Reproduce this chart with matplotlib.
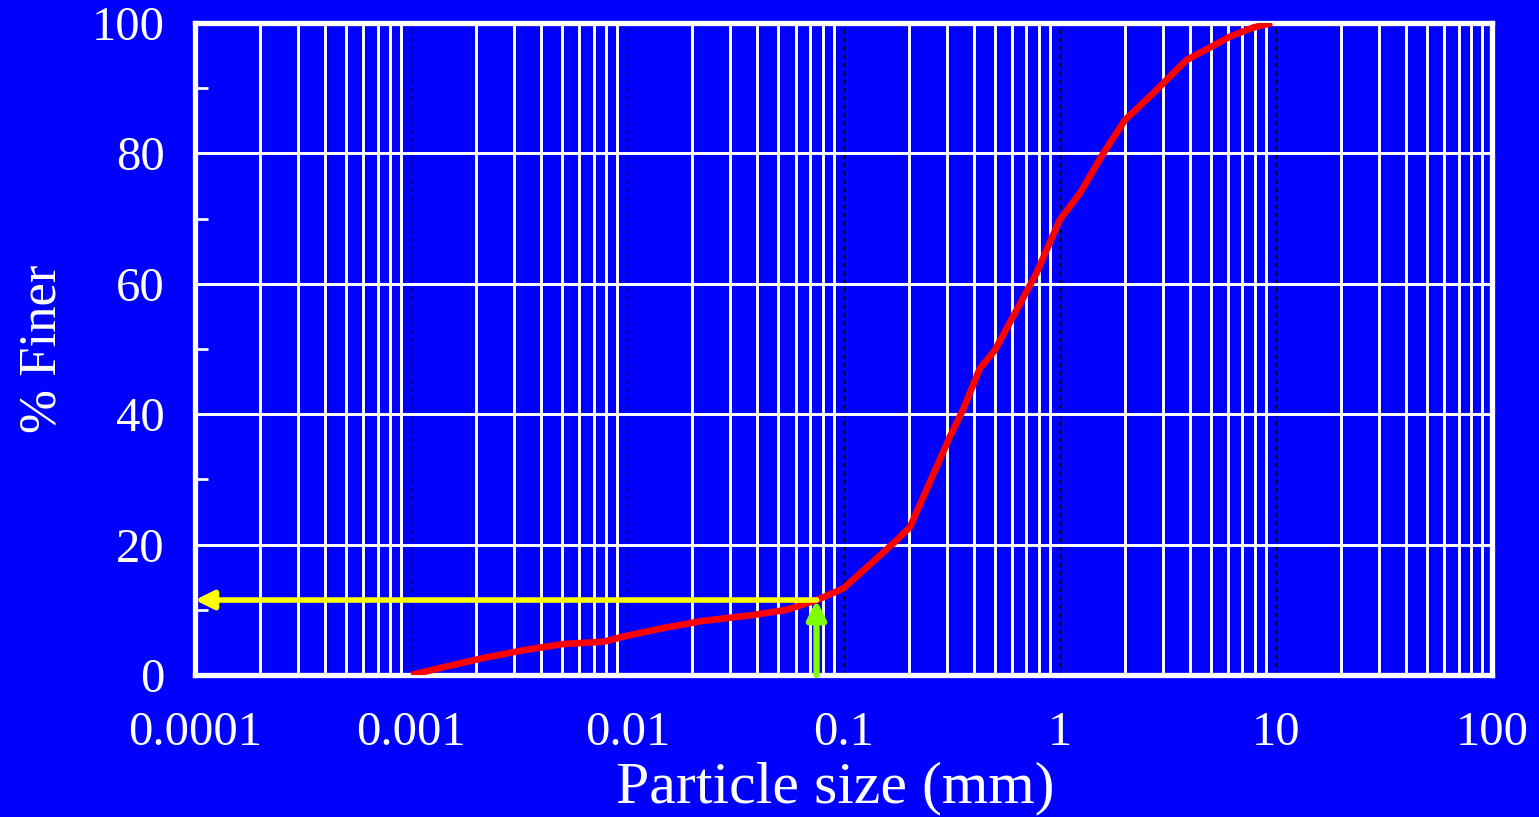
import numpy as np
import matplotlib
matplotlib.use('Agg')
import matplotlib.pyplot as plt
from matplotlib.ticker import LogLocator, NullFormatter, MultipleLocator

# grain size distribution
size_mm = [0.001, 0.00141, 0.00215, 0.0033, 0.00505, 0.00773, 0.0099, 0.01465,
           0.0223, 0.0382, 0.0545, 0.0752, 0.1, 0.17, 0.203, 0.31, 0.356, 0.427,
           0.501, 0.78, 1.0, 1.24, 1.59, 2.0, 2.7, 3.85, 6.12, 7.84, 9.6]
finer = [0.0, 1.2, 2.6, 3.8, 4.75, 5.1, 6.0, 7.2, 8.3, 9.2, 10.0, 11.5, 13.3,
         20.2, 22.7, 36.5, 40.6, 47.0, 49.8, 61.6, 69.8, 73.9, 80.0, 85.1,
         89.2, 94.3, 97.9, 99.3, 100.0]

d_fines = 0.075   # No. 200 sieve
p_fines = 11.5

xticks = [1e-4, 1e-3, 1e-2, 1e-1, 1, 10, 100]
xticklabels = ['0.0001', '0.001', '0.01', '0.1', '1', '10', '100']
yticks = [0, 20, 40, 60, 80, 100]

blue = '#0000FF'
serif = 'Liberation Serif'

fig = plt.figure(figsize=(15.39, 8.17), dpi=100, facecolor=blue)
ax = fig.add_axes([0.1267, 0.1738, 0.8428, 0.7980])
ax.set_facecolor(blue)

ax.set_xscale('log')
ax.set_xlim(1e-4, 100)
ax.set_ylim(0, 100)

# grid: white minor lines, thin dashed black at decades
ax.xaxis.set_minor_locator(LogLocator(base=10, subs=np.arange(2, 10), numticks=20))
ax.xaxis.set_minor_formatter(NullFormatter())
ax.grid(True, which='minor', axis='x', color='white', lw=2.1, zorder=1)
ax.grid(True, which='major', axis='x', color='black', lw=1.0, ls=(0, (3, 3)), zorder=1)
ax.grid(True, which='major', axis='y', color='white', lw=2.1, zorder=1)
ax.set_axisbelow(True)

ax.set_xticks(xticks)
ax.set_xticklabels(xticklabels, family=serif, fontsize=35, color='white')
ax.set_yticks(yticks)
ax.set_yticklabels([str(v) for v in yticks], family=serif, fontsize=35, color='white')
ax.yaxis.set_minor_locator(MultipleLocator(10))
ax.tick_params(axis='x', which='both', length=0, pad=26)
ax.tick_params(axis='y', which='major', length=0, pad=22)
ax.tick_params(axis='y', which='minor', direction='in', length=9, width=2, color='white')

for s in ax.spines.values():
    s.set_color('white')
    s.set_linewidth(3.8)

ax.plot(size_mm, finer, color='red', lw=4.8, zorder=3, solid_capstyle='butt')

# arrows marking percent passing 0.075 mm
ax.annotate('', xy=(d_fines, p_fines), xytext=(d_fines, 0),
            arrowprops=dict(arrowstyle='-|>,head_width=0.55,head_length=1.1',
                            color='#80FF00', lw=4.5, shrinkA=0, shrinkB=0), zorder=4)
ax.annotate('', xy=(1e-4, p_fines), xytext=(d_fines, p_fines),
            arrowprops=dict(arrowstyle='-|>,head_width=0.55,head_length=1.1',
                            color='#FFFF00', lw=4.0, shrinkA=0, shrinkB=0), zorder=4)

ax.set_xlabel('Particle size (mm)', family=serif, fontsize=43, color='white')
ax.xaxis.set_label_coords(0.494, -0.132)
ax.set_ylabel('% Finer', family=serif, fontsize=38, color='white')
ax.yaxis.set_label_coords(-0.099, 0.5)

fig.savefig('out.png', dpi=100, facecolor=blue)
